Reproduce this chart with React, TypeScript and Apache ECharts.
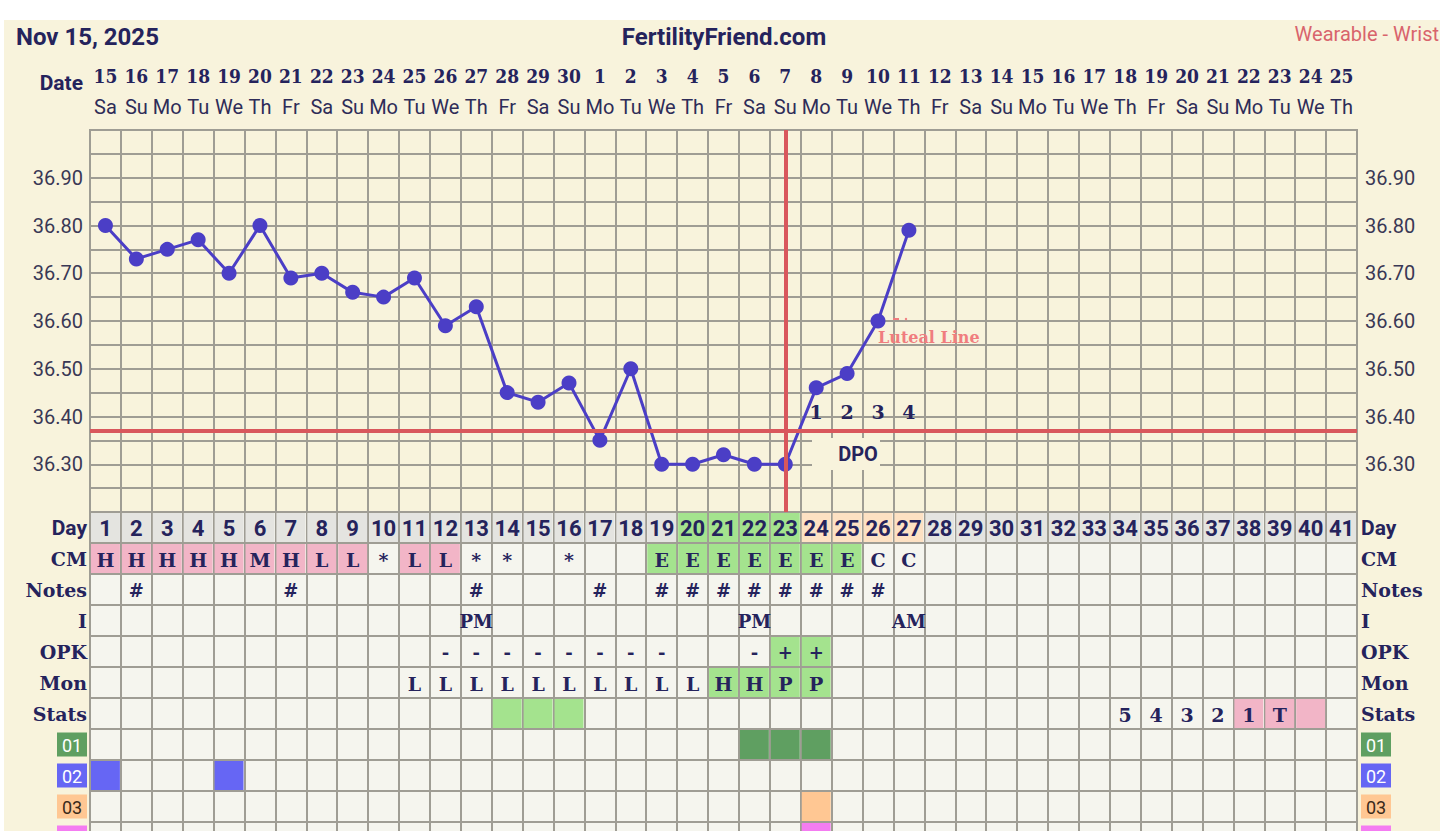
import React, { useEffect, useRef } from 'react';
import * as echarts from 'echarts';

const dayNumbers = ['1','2','3','4','5','6','7','8','9','10','11','12','13','14','15','16','17','18','19','20','21','22','23','24','25','26','27','28','29','30','31','32','33','34','35','36','37','38','39','40','41'];
const dateLabels = ['15','16','17','18','19','20','21','22','23','24','25','26','27','28','29','30','1','2','3','4','5','6','7','8','9','10','11','12','13','14','15','16','17','18','19','20','21','22','23','24','25'];
const weekdayLabels = ['Sa','Su','Mo','Tu','We','Th','Fr','Sa','Su','Mo','Tu','We','Th','Fr','Sa','Su','Mo','Tu','We','Th','Fr','Sa','Su','Mo','Tu','We','Th','Fr','Sa','Su','Mo','Tu','We','Th','Fr','Sa','Su','Mo','Tu','We','Th'];

const temps = [36.80, 36.73, 36.75, 36.77, 36.70, 36.80, 36.69, 36.70, 36.66, 36.65, 36.69, 36.59, 36.63, 36.45, 36.43, 36.47, 36.35, 36.50, 36.30, 36.30, 36.32, 36.30, 36.30, 36.46, 36.49, 36.60, 36.79];
const tempTickLabels = ['36.30','36.40','36.50','36.60','36.70','36.80','36.90'];
const coverline = 36.373;
const ovulationDay = '23';
const dpoDays = [24, 25, 26, 27];
const dpoLabels = ['1','2','3','4'];
const dpoLevel = 36.41;

const rowLabels = ['Day','CM','Notes','I','OPK','Mon','Stats','01','02','03','04'];
const cmValues = ['H','H','H','H','H','M','H','L','L','*','L','L','*','*','','*','','','E','E','E','E','E','E','E','C','C'];
const notesDays = [2, 7, 13, 17, 19, 20, 21, 22, 23, 24, 25, 26];
const intercourse: [number, string][] = [[13,'PM'],[22,'PM'],[27,'AM']];
const opkValues: [number, string][] = [[12,'-'],[13,'-'],[14,'-'],[15,'-'],[16,'-'],[17,'-'],[18,'-'],[19,'-'],[22,'-'],[23,'+'],[24,'+']];
const monitorValues: [number, string][] = [[11,'L'],[12,'L'],[13,'L'],[14,'L'],[15,'L'],[16,'L'],[17,'L'],[18,'L'],[19,'L'],[20,'L'],[21,'H'],[22,'H'],[23,'P'],[24,'P']];
const statsValues: [number, string][] = [[34,'5'],[35,'4'],[36,'3'],[37,'2'],[38,'1'],[39,'T']];

const dayGreen = [20, 21, 22, 23];
const dayPeach = [24, 25, 26, 27];
const cmPink = [1, 2, 3, 4, 5, 6, 7, 8, 9, 11, 12];
const cmGreen = [19, 20, 21, 22, 23, 24, 25];
const opkGreen = [23, 24];
const monGreen = [21, 22, 23, 24];
const statsGreen = [14, 15, 16];
const statsPink = [38, 39, 40];
const code01Days = [22, 23, 24];
const code02Days = [1, 5];
const code03Days = [24];
const code04Days = [24];

const NAVY = '#25235C';
const CREAM = '#F8F3DC';
const CELL = '#F5F5EE';
const GRID = '#9F9D94';
const RED = '#D9575C';
const PINK = '#F2B5C7';
const GREEN = '#A4E38E';
const DKGREEN = '#5F9F61';
const BLUE = '#6666F4';
const PEACH = '#FFC793';
const LTPEACH = '#FDE1C3';
const MAGENTA = '#F47CF1';
const DAYGRAY = '#E4E4E0';
const SLAB = '"DejaVu Serif", serif';

type Cell = { d: number; r: number; text: string; fill: string; font: string };

function buildCells(): Cell[] {
  const cells: Cell[] = [];
  const slab = `bold 19px ${SLAB}`;
  const put = (r: number, d: number, text: string, fill: string, font = slab) => {
    const ex = cells.find((c) => c.r === r && c.d === d);
    if (ex) {
      if (text) ex.text = text;
      if (fill) ex.fill = fill;
    } else cells.push({ d, r, text, fill, font });
  };
  dayNumbers.forEach((n, i) => {
    const d = i + 1;
    const fill = dayGreen.includes(d) ? GREEN : dayPeach.includes(d) ? LTPEACH : DAYGRAY;
    put(0, d, n, fill, 'bold 22px Roboto');
  });
  cmValues.forEach((v, i) => {
    const d = i + 1;
    const fill = cmPink.includes(d) ? PINK : cmGreen.includes(d) ? GREEN : '';
    if (v || fill) put(1, d, v, fill);
  });
  notesDays.forEach((d) => put(2, d, '#', '', `bold 18px ${SLAB}`));
  intercourse.forEach(([d, v]) => put(3, d, v, '', `bold 18px ${SLAB}`));
  opkValues.forEach(([d, v]) => put(4, d, v, opkGreen.includes(d) ? GREEN : '', `bold 18px ${SLAB}`));
  monitorValues.forEach(([d, v]) => put(5, d, v, monGreen.includes(d) ? GREEN : ''));
  statsGreen.forEach((d) => put(6, d, '', GREEN));
  statsPink.forEach((d) => put(6, d, '', PINK));
  statsValues.forEach(([d, v]) => put(6, d, v, ''));
  code01Days.forEach((d) => put(7, d, '', DKGREEN));
  code02Days.forEach((d) => put(8, d, '', BLUE));
  code03Days.forEach((d) => put(9, d, '', PEACH));
  code04Days.forEach((d) => put(10, d, '', MAGENTA));
  return cells;
}

const badgeStyle = (bg: string, fg: string) => ({
  backgroundColor: bg,
  color: fg,
  fontFamily: 'Roboto',
  fontSize: 18,
  lineHeight: 19,
  padding: [4, 3, 2, 3],
  width: 24,
  align: 'center',
});

function rowLabelRich() {
  return {
    day: { fontFamily: 'Roboto', fontWeight: 'bold', fontSize: 21, color: NAVY },
    s: { fontFamily: SLAB, fontWeight: 'bold', fontSize: 19, color: NAVY },
    b01: badgeStyle(DKGREEN, '#FFFFFF'),
    b02: badgeStyle(BLUE, '#FFFFFF'),
    b03: badgeStyle(PEACH, '#3A2A1A'),
    b04: badgeStyle(MAGENTA, '#3A2A1A'),
  };
}

const rowLabelFormatter = (v: string) => {
  if (v === 'Day') return `{day|${v}}`;
  if (/^0\d$/.test(v)) return `{b${v}|${v}}`;
  return `{s|${v}}`;
};

const tempFormatter = (v: number) => {
  const s = (Math.round(v * 100) / 100).toFixed(2);
  return tempTickLabels.includes(s) ? s : '';
};

export default function App() {
  const ref = useRef<HTMLDivElement>(null);
  useEffect(() => {
    if (!ref.current) return;
    const chart = echarts.init(ref.current, null, { renderer: 'svg' });
    const cells = buildCells();
    const GL = 90, GW = 1267;
    const option: any = {
      animation: false,
      backgroundColor: 'transparent',
      textStyle: { fontFamily: 'Roboto' },
      grid: [
        { left: GL, top: 130, width: GW, height: 382, show: true, backgroundColor: CREAM, borderColor: GRID, borderWidth: 2 },
        { left: GL, top: 512, width: GW, height: 341, show: true, backgroundColor: CELL, borderColor: GRID, borderWidth: 2 },
      ],
      xAxis: [
        {
          gridIndex: 0, type: 'category', data: dayNumbers, boundaryGap: true,
          axisLine: { show: false }, axisTick: { show: false }, axisLabel: { show: false },
          splitLine: { show: true, interval: 0, lineStyle: { color: GRID, width: 2 } },
        },
        {
          gridIndex: 0, type: 'category', position: 'top', data: dateLabels, boundaryGap: true,
          axisLine: { show: false }, axisTick: { show: false }, splitLine: { show: false },
          axisLabel: {
            interval: 0, margin: 8,
            formatter: (v: string, i: number) => `{d|${v}}\n{w|${weekdayLabels[i]}}`,
            rich: {
              d: { fontFamily: '"DejaVu Serif Condensed", "DejaVu Serif", serif', fontWeight: 'bold', fontSize: 19, lineHeight: 31, color: NAVY },
              w: { fontFamily: 'Roboto', fontSize: 20, lineHeight: 31, color: '#2E2C58' },
            },
          },
        },
        {
          gridIndex: 1, type: 'category', data: dayNumbers, boundaryGap: true,
          axisLine: { show: false }, axisTick: { show: false }, axisLabel: { show: false },
          splitLine: { show: true, interval: 0, lineStyle: { color: GRID, width: 2 } },
        },
      ],
      yAxis: [
        {
          gridIndex: 0, type: 'value', min: 36.2, max: 37.0, interval: 0.05,
          axisLine: { show: false }, axisTick: { show: false },
          axisLabel: { margin: 7, formatter: tempFormatter, fontFamily: 'Roboto', fontSize: 20, color: '#3A3855' },
          splitLine: { show: true, lineStyle: { color: GRID, width: 2 } },
        },
        {
          gridIndex: 0, type: 'value', position: 'right', min: 36.2, max: 37.0, interval: 0.05,
          axisLine: { show: false }, axisTick: { show: false },
          axisLabel: { margin: 8, formatter: tempFormatter, fontFamily: 'Roboto', fontSize: 20, color: '#3A3855' },
          splitLine: { show: false },
        },
        {
          gridIndex: 1, type: 'category', data: rowLabels, inverse: true, boundaryGap: true,
          axisLine: { show: false }, axisTick: { show: false },
          axisLabel: { interval: 0, margin: 3, formatter: rowLabelFormatter, rich: rowLabelRich() },
          splitLine: { show: true, interval: 0, lineStyle: { color: GRID, width: 2 } },
        },
        {
          gridIndex: 1, type: 'category', position: 'right', data: rowLabels, inverse: true, boundaryGap: true,
          axisLine: { show: false }, axisTick: { show: false },
          axisLabel: { interval: 0, margin: 4, align: 'left', formatter: rowLabelFormatter, rich: rowLabelRich() },
          splitLine: { show: false },
        },
      ],
      series: [
        {
          type: 'line', xAxisIndex: 0, yAxisIndex: 0, data: [], z: 1, silent: true,
          markLine: {
            silent: true, symbol: 'none', label: { show: false },
            lineStyle: { color: RED, width: 4, type: 'solid' },
            data: [{ yAxis: coverline }, { xAxis: ovulationDay }],
          },
        },
        {
          type: 'line', xAxisIndex: 0, yAxisIndex: 0, data: temps, z: 4,
          symbol: 'circle', symbolSize: 15,
          itemStyle: { color: '#4B3EC6' },
          lineStyle: { color: '#4B3EC6', width: 3 },
        },
        {
          type: 'custom', xAxisIndex: 0, yAxisIndex: 0, z: 5,
          data: dpoDays.map((d) => [d - 1, dpoLevel]),
          renderItem: (params: any, api: any) => {
            const c = api.coord([api.value(0), api.value(1)]);
            return { type: 'text', x: c[0], y: c[1], style: { text: dpoLabels[params.dataIndex], align: 'center', verticalAlign: 'middle', font: `bold 19px ${SLAB}`, fill: NAVY } };
          },
        },
        {
          type: 'custom', xAxisIndex: 2, yAxisIndex: 2, z: 3,
          data: cells.map((c) => [c.d - 1, c.r]),
          renderItem: (params: any, api: any) => {
            const cell = cells[params.dataIndex];
            const c = api.coord([api.value(0), api.value(1)]);
            const s = api.size([1, 1]);
            const w = s[0], h = s[1];
            const kids: any[] = [];
            if (cell.fill) kids.push({ type: 'rect', shape: { x: c[0] - w / 2 + 1, y: c[1] - h / 2 + 1, width: w - 2, height: h - 2 }, style: { fill: cell.fill } });
            if (cell.text) kids.push({ type: 'text', x: c[0], y: c[1] + 1, style: { text: cell.text, align: 'center', verticalAlign: 'middle', font: cell.font, fill: NAVY } });
            return { type: 'group', children: kids };
          },
        },
      ],
      graphic: [
        { type: 'text', x: 16, y: 37, z: 10, style: { text: 'Nov 15, 2025', font: 'bold 24px Roboto', fill: NAVY, verticalAlign: 'middle' } },
        { type: 'text', x: 724, y: 37, z: 10, style: { text: 'FertilityFriend.com', font: 'bold 24px Roboto', fill: NAVY, align: 'center', verticalAlign: 'middle' } },
        { type: 'text', x: 1439, y: 34, z: 10, style: { text: 'Wearable - Wrist', font: '20px Roboto', fill: '#D8646C', align: 'right', verticalAlign: 'middle' } },
        { type: 'text', x: 83, y: 83, z: 10, style: { text: 'Date', font: 'bold 21px Roboto', fill: NAVY, align: 'right', verticalAlign: 'middle' } },
        { type: 'rect', z: 10, shape: { x: 812, y: 438, width: 68, height: 32 }, style: { fill: CREAM } },
        { type: 'text', x: 858, y: 454, z: 11, style: { text: 'DPO', font: 'bold 20px Roboto', fill: NAVY, align: 'center', verticalAlign: 'middle' } },
        { type: 'line', z: 10, shape: { x1: 893, y1: 319, x2: 899, y2: 319 }, style: { stroke: '#F07D7F', lineWidth: 2 } },
        { type: 'circle', z: 10, shape: { cx: 906, cy: 319, r: 1.2 }, style: { fill: '#F07D7F' } },
        { type: 'text', x: 878, y: 337, z: 10, style: { text: 'Luteal Line', font: `bold 16px ${SLAB}`, fill: '#F07D7F', verticalAlign: 'middle' } },
      ],
    };
    chart.setOption(option);
    return () => chart.dispose();
  }, []);

  return (
    <div style={{ position: 'fixed', left: 0, top: 0, width: 1440, height: 831, background: '#FFFFFF', overflow: 'hidden' }}>
      <div style={{ position: 'absolute', left: 4, top: 20, width: 1436, height: 811, background: CREAM }} />
      <div ref={ref} style={{ position: 'absolute', left: 0, top: 0, width: 1440, height: 880 }} />
    </div>
  );
}
